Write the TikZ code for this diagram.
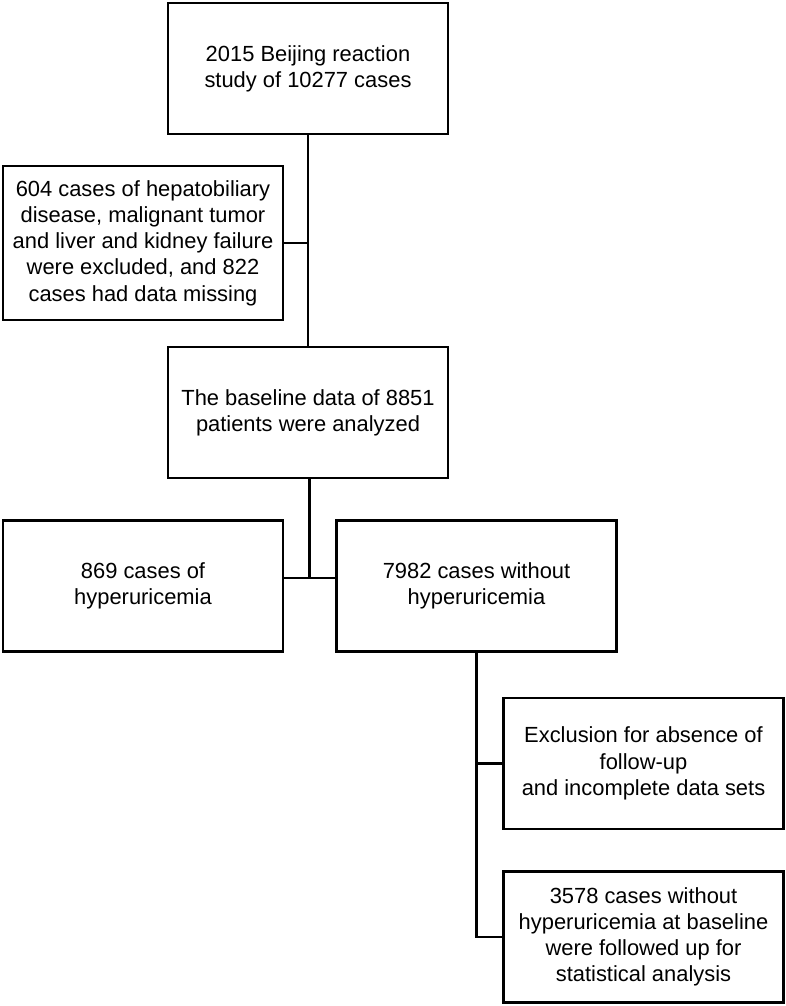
\documentclass[tikz,border=0pt]{standalone}
\usepackage{fontspec}
\setmainfont{Liberation Sans}
\usetikzlibrary{
    calc,
    positioning
}
\tikzset{
    every picture/.style = {
        line width = 1.3pt
    },
    flowbox/.style = {
        draw,
        line width = 1.3pt,
        minimum width = 140pt,
        minimum height = 65.5pt,
        inner sep = 2pt,
        align = center,
        font = \fontsize{10.95pt}{13.1pt}\selectfont
    },
    tallbox/.style = {
        flowbox,
        minimum height = 77pt
    }
}

\begin{document}
\begin{tikzpicture}[x=0.5pt, y=-0.5pt]
    \useasboundingbox (0,0) rectangle (786,1006);
    % boxes
    \node[flowbox] (study)   at (308,68.5)  {2015 Beijing reaction\\study of 10277 cases};
    \node[tallbox] (excl)    at (143,243)   {604 cases of hepatobiliary\\disease, malignant tumor\\and liver and kidney failure\\were excluded, and 822\\cases had data missing};
    \node[flowbox] (base)    at (308,412.5) {The baseline data of 8851\\patients were analyzed};
    \node[flowbox] (hyper)   at (143,586)   {869 cases of\\hyperuricemia};
    \node[flowbox] (nohyper) at (476.5,586) {7982 cases without\\hyperuricemia};
    \node[flowbox] (lost)    at (643.5,763.5) {Exclusion for absence of\\follow-up\\and incomplete data sets};
    \node[flowbox] (final)   at (643.5,937) {3578 cases without\\hyperuricemia at baseline\\were followed up for\\statistical analysis};
    % connectors
    \coordinate (fork) at (309.5,578);
    \draw (study) -- (base);
    \draw (excl.east) -- (excl.east -| study.south);
    \draw (base.south -| fork) -- (fork);
    \draw (hyper.east |- fork) -- (nohyper.west |- fork);
    \draw (nohyper.south) |- (final.west);
    \draw (nohyper.south |- lost.west) -- (lost.west);
\end{tikzpicture}
\end{document}
